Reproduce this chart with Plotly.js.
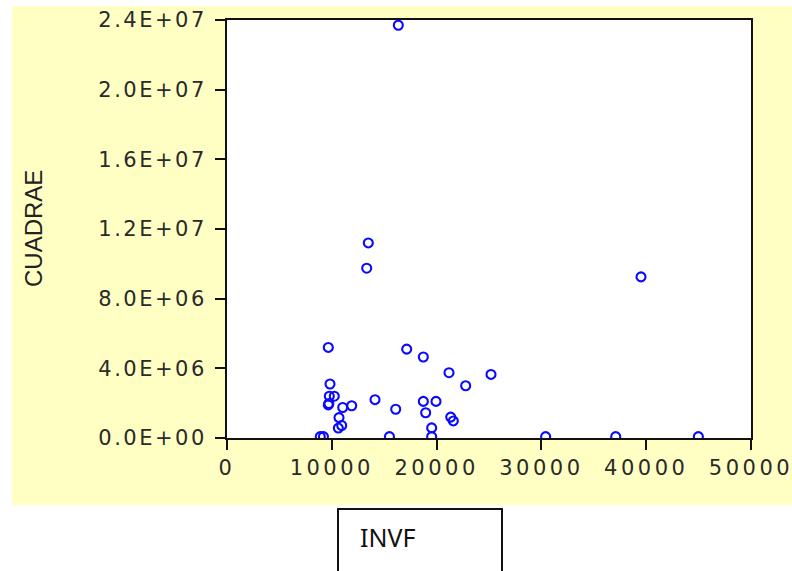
<!DOCTYPE html>
<html>
<head>
<meta charset="utf-8">
<script src="https://cdn.plot.ly/plotly-3.0.1.min.js"></script>
<style>
html,body{margin:0;padding:0;background:#fff;}
#chart{width:792px;height:571px;}
#chart .ytick text{letter-spacing:2.5px;}
#chart .xtick text{letter-spacing:3.5px;}
</style>
</head>
<body>
<div id="chart"></div>
<script>
// INVF values (x)
var invf = [16345, 13483, 13330, 39504, 9666, 17147, 18734, 21183, 25191, 9828,
            22774, 9761, 10239, 14122, 18734, 19943, 9666, 9720, 11899, 11040,
            16097, 18957, 10687, 21345, 21594, 10945, 10623, 19529, 8900, 9200,
            15500, 19529, 30406, 37090, 44978];
// CUADRAE values (y)
var cuadrae = [23700000, 11200000, 9750000, 9250000, 5200000, 5100000, 4650000, 3750000, 3650000, 3100000,
               3000000, 2400000, 2400000, 2200000, 2100000, 2100000, 1900000, 1980000, 1850000, 1750000,
               1650000, 1450000, 1170000, 1200000, 980000, 720000, 570000, 580000, 80000, 80000,
               80000, 80000, 80000, 80000, 80000];
var xTickVals = [0, 10000, 20000, 30000, 40000, 50000];
var xTickText = ["0", "10000", "20000", "30000", "40000", "50000"];
var yTickVals = [0, 4000000, 8000000, 12000000, 16000000, 20000000, 24000000];
var yTickText = ["0.0E+00", "4.0E+06", "8.0E+06", "1.2E+07", "1.6E+07", "2.0E+07", "2.4E+07"];
var xLabel = "INVF";
var yLabel = "CUADRAE";

var trace = {
  x: invf, y: cuadrae, type: 'scatter', mode: 'markers',
  marker: {symbol: 'circle-open', size: 9, color: '#0a0aff', line: {width: 2.1, color: '#0a0aff'}},
  hoverinfo: 'x+y'
};

var tickFont = {family: 'DejaVu Sans, sans-serif', size: 21, color: '#2a2a2a'};
var layout = {
  width: 792, height: 571,
  margin: {l: 227, r: 41, t: 20, b: 133, pad: 0},
  paper_bgcolor: '#ffffff', plot_bgcolor: 'rgba(0,0,0,0)',
  showlegend: false,
  xaxis: {
    range: [0, 50000], tickvals: xTickVals, ticktext: xTickText,
    showgrid: false, zeroline: false, showline: true, linecolor: '#111', linewidth: 2, mirror: true,
    ticks: 'outside', ticklen: 10, tickwidth: 2, tickcolor: '#111',
    tickfont: tickFont, automargin: false
  },
  yaxis: {
    range: [0, 24000000], tickvals: yTickVals, ticktext: yTickText,
    showgrid: false, zeroline: false, showline: true, linecolor: '#111', linewidth: 2, mirror: true,
    ticks: 'outside', ticklen: 10, tickwidth: 2, tickcolor: '#111',
    tickfont: tickFont, automargin: false, ticklabelstandoff: 4
  },
  shapes: [
    {type: 'rect', xref: 'paper', yref: 'paper', layer: 'below',
     x0: (12 - 227) / 524, x1: (792 - 227) / 524, y0: (438 - 505) / 418, y1: (438 - 6) / 418,
     fillcolor: '#FFFFC4', line: {width: 0}},
    {type: 'rect', xref: 'paper', yref: 'paper', layer: 'below',
     x0: 0, x1: 1, y0: 0, y1: 1, fillcolor: '#ffffff', line: {width: 0}},
    {type: 'rect', xref: 'paper', yref: 'paper', layer: 'above',
     x0: (338 - 227) / 524, x1: (502 - 227) / 524, y0: (438 - 590) / 418, y1: (438 - 509) / 418,
     fillcolor: 'rgba(0,0,0,0)', line: {width: 2, color: '#111'}}
  ],
  annotations: [
    {text: yLabel, xref: 'paper', yref: 'paper', x: (33 - 227) / 524, y: 0.5,
     xanchor: 'center', yanchor: 'middle', textangle: -90, showarrow: false,
     font: {family: 'Liberation Sans, Arial, sans-serif', size: 24, color: '#222'}},
    {text: xLabel, xref: 'paper', yref: 'paper', x: (358 - 227) / 524, y: (438 - 537) / 418,
     xanchor: 'left', yanchor: 'middle', showarrow: false,
     font: {family: 'Noto Sans, sans-serif', size: 25, color: '#111'}}
  ]
};
Plotly.newPlot('chart', [trace], layout, {displayModeBar: false, staticPlot: true});
</script>
</body>
</html>
